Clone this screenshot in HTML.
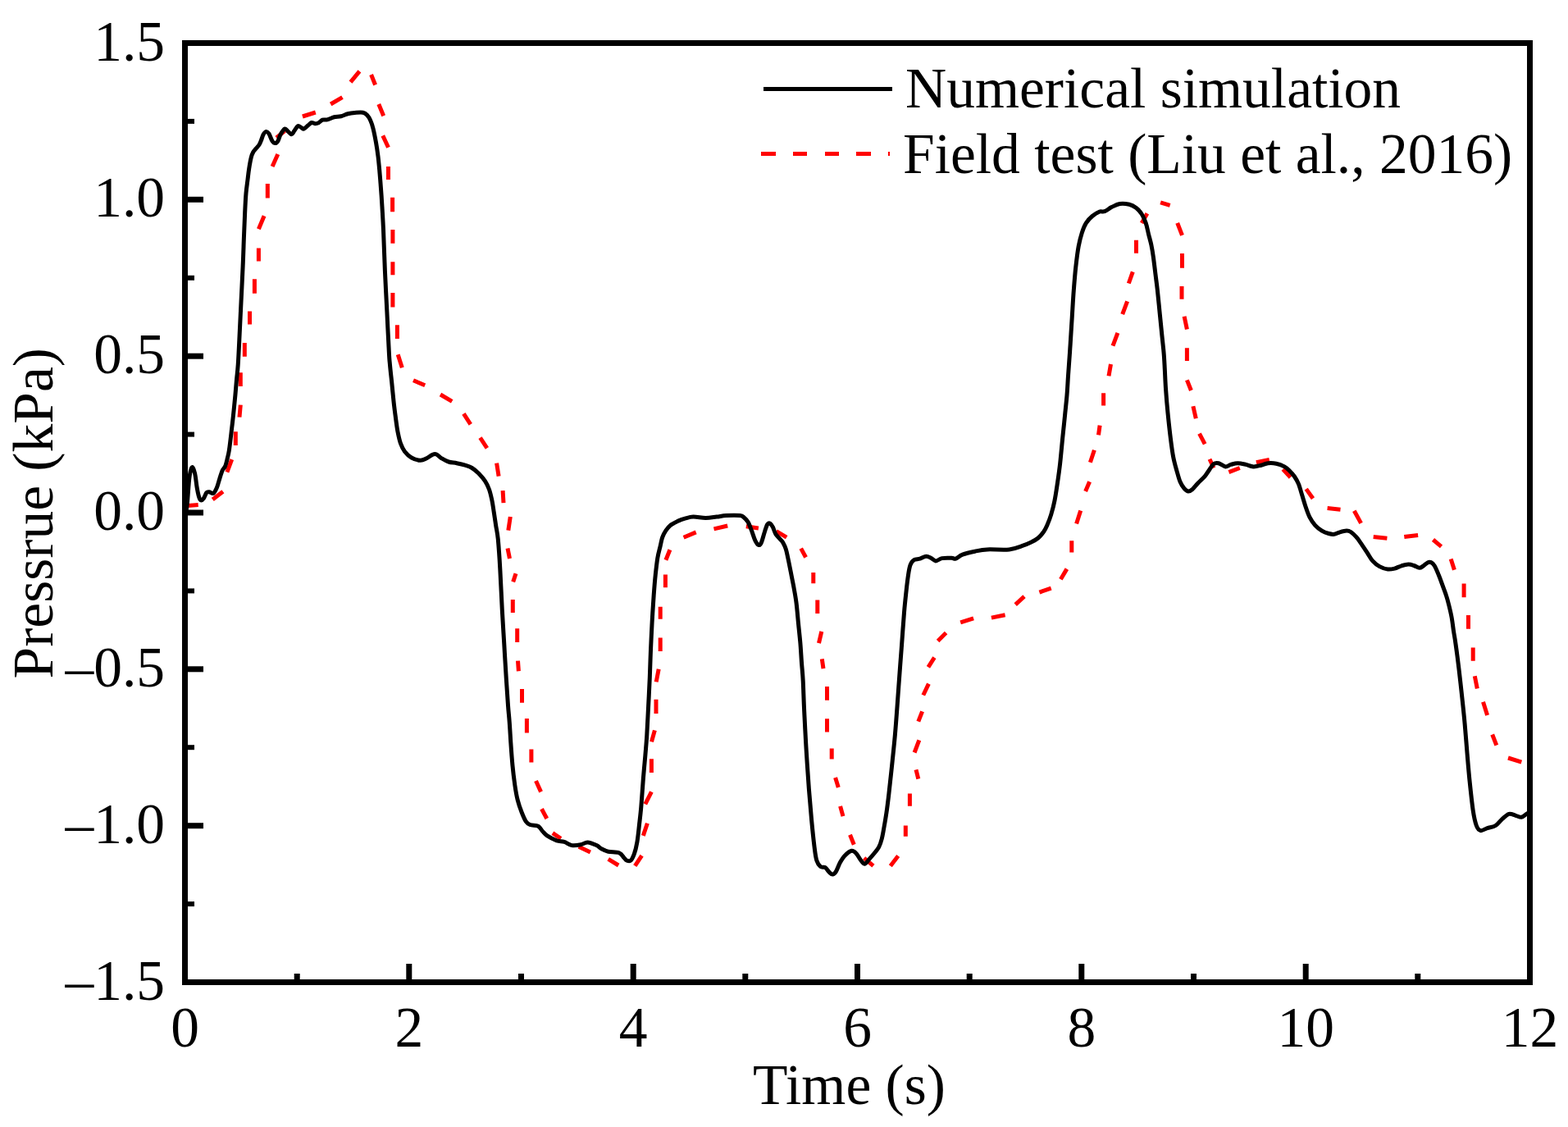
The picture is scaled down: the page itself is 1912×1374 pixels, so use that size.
<!DOCTYPE html>
<html><head><meta charset="utf-8"><style>
html,body{margin:0;padding:0;background:#fff;}
svg{display:block;}
text{font-family:"Liberation Serif","Times New Roman",serif;font-size:69.5px;fill:#000;}
</style></head><body>
<svg width="1912" height="1374" viewBox="0 0 1912 1374">
<rect x="0" y="0" width="1912" height="1374" fill="#fff"/>
<defs><clipPath id="c"><rect x="229" y="56" width="1633" height="1138"/></clipPath></defs>
<g clip-path="url(#c)" fill="none">
<path d="M224.0,616.9 L241.7,615.4 M259.3,609.0 L271.9,599.3 M276.9,575.6 L282.7,560.2 M287.3,542.9 L287.3,526.2 M292.0,508.6 L293.3,493.6 M293.3,471.0 L293.3,454.2 M298.3,434.8 L298.3,418.1 M304.5,395.5 L304.5,379.6 M310.4,357.8 L310.4,340.3 M315.4,318.5 L315.4,302.6 M315.4,279.2 L322.1,263.3 M326.3,241.6 L326.3,224.0 M332.1,203.1 L338.8,188.0 M337.1,168.0 L347.2,159.6 M368.9,142.0 L384.8,137.0 M403.2,127.0 L417.5,118.6 M427.5,100.2 L438.4,86.8 M452.6,91.0 L457.6,103.5 M461.8,127.0 L467.7,141.2 M466.8,165.4 L473.5,179.7 M473.5,203.1 L473.5,219.0 M478.6,240.8 L478.6,258.3 M478.9,280.0 L478.9,296.7 M478.9,319.3 L478.9,335.2 M478.9,357.0 L478.9,374.6 M484.4,396.3 L484.4,413.0 M485.2,432.3 L490.3,448.2 M504.0,463.8 L518.2,469.8 M537.0,481.0 L551.2,489.4 M565.4,504.4 L573.8,517.3 M585.5,533.7 L593.9,546.3 M605.6,564.7 L608.1,580.6 M613.1,598.2 L614.0,613.2 M622.3,630.0 L619.8,646.7 M619.0,668.4 L621.5,680.9 M629.0,699.3 L625.7,709.4 M625.3,731.1 L625.3,747.0 M630.7,766.3 L630.7,783.0 M631.5,805.6 L632.4,818.2 M636.5,840.0 L636.5,856.7 M642.4,875.9 L642.4,893.4 M647.9,913.5 L647.9,929.4 M653.5,952.0 L659.6,965.4 M660.5,986.3 L666.8,998.0 M673.9,1015.6 L683.9,1022.3 M705.7,1032.3 L719.9,1039.0 M741.7,1047.4 L754.2,1055.0 M774.3,1055.7 L782.6,1043.2 M784.3,1018.9 L789.4,1003.8 M786.8,980.4 L794.4,965.4 M794.4,941.9 L794.4,925.2 M794.5,904.4 L798.4,890.4 M800.0,869.9 L800.0,852.8 M800.2,831.4 L803.2,815.7 M805.2,794.1 L805.2,777.4 M805.2,754.8 L805.2,739.7 M811.4,716.3 L811.4,700.4 M811.9,682.8 L816.9,670.3 M833.6,655.2 L848.7,648.9 M870.5,644.9 L887.2,641.0 M909.8,641.8 L924.9,643.9 M946.6,647.7 L959.2,655.2 M976.7,668.6 L982.6,679.5 M991.8,697.9 L991.8,711.3 M996.8,731.4 L996.8,748.1 M1001.8,769.9 L998.5,784.1 M1002.3,803.3 L1004.0,815.1 M1008.5,837.0 L1008.5,853.7 M1008.5,876.2 L1008.5,892.5 M1014.2,912.4 L1014.2,925.6 M1018.6,948.1 L1022.3,960.1 M1024.6,982.8 L1028.0,995.1 M1036.5,1017.8 L1041.3,1029.7 M1053.6,1046.2 L1064.9,1055.7 M1085.8,1055.7 L1095.2,1043.4 M1104.3,1019.7 L1104.3,1006.4 M1109.4,982.8 L1109.4,967.6 M1119.8,949.7 L1117.0,938.3 M1115.1,917.5 L1120.8,902.3 M1119.8,879.6 L1124.6,867.3 M1125.8,847.5 L1132.4,833.7 M1131.9,813.3 L1139.4,801.6 M1143.6,781.5 L1153.6,771.5 M1171.2,758.9 L1187.1,753.9 M1208.9,753.1 L1225.6,749.7 M1238.2,737.2 L1249.0,727.1 M1267.4,722.1 L1281.7,717.1 M1293.4,706.2 L1300.9,693.6 M1306.8,673.6 L1306.8,659.3 M1312.6,638.4 L1317.7,622.5 M1323.6,599.0 L1328.6,587.3 M1329.4,563.8 L1334.4,548.8 M1339.5,530.4 L1341.1,518.7 M1345.6,494.4 L1345.6,479.3 M1352.0,458.4 L1354.5,444.0 M1357.0,421.7 L1362.9,405.8 M1368.7,383.2 L1374.6,367.3 M1376.3,345.5 L1381.3,331.3 M1385.5,308.7 L1385.5,292.8 M1392.2,271.9 L1398.9,260.2 M1415.1,246.8 L1426.7,250.3 M1435.7,271.9 L1441.5,286.9 M1441.5,309.0 L1441.5,326.8 M1441.0,348.9 L1441.0,364.8 M1444.1,385.7 L1447.4,401.6 M1447.4,424.2 L1447.4,440.1 M1447.4,463.4 L1452.4,476.0 M1454.9,495.2 L1458.3,510.3 M1462.5,528.7 L1469.2,541.3 M1475.0,559.7 L1480.0,570.5 M1498.4,575.6 L1511.8,570.5 M1531.9,563.8 L1547.8,560.5 M1564.4,572.0 L1573.6,582.0 M1592.7,596.1 L1601.0,607.8 M1618.6,619.5 L1634.5,621.2 M1651.3,622.8 L1659.6,637.9 M1674.7,654.6 L1691.4,656.3 M1712.3,654.6 L1729.1,652.5 M1747.5,658.0 L1757.5,666.4 M1769.2,681.4 L1773.4,694.8 M1785.1,711.5 L1785.1,728.3 M1790.5,750.0 L1790.5,766.8 M1796.2,789.5 L1796.2,805.8 M1798.3,824.2 L1801.3,839.5 M1808.5,855.8 L1813.6,872.1 M1819.7,895.5 L1824.8,908.7 M1839.0,924.0 L1855.3,929.1" stroke="#ff0000" stroke-width="5" stroke-linecap="butt"/>
<path d="M225.5,632.0 C226.0,629.0 227.4,622.4 228.3,614.1 C229.2,605.8 229.9,589.7 230.9,582.3 C231.9,574.9 233.1,570.6 234.2,569.7 C235.3,568.9 236.6,573.2 237.6,577.2 C238.6,581.2 239.3,589.2 240.1,594.0 C240.9,598.8 241.8,603.1 242.6,605.7 C243.4,608.4 244.1,609.6 245.1,609.9 C246.1,610.2 247.3,608.9 248.4,607.4 C249.5,605.9 250.7,602.0 251.8,600.7 C252.9,599.4 253.7,599.7 255.1,599.8 C256.5,599.9 258.6,602.3 260.1,601.5 C261.6,600.7 263.0,597.7 264.3,594.8 C265.6,591.9 266.6,587.4 267.7,583.9 C268.8,580.4 269.9,576.4 271.0,573.9 C272.1,571.4 273.4,571.1 274.4,568.9 C275.4,566.7 276.1,563.9 276.9,560.5 C277.7,557.1 278.6,554.1 279.4,548.8 C280.2,543.5 281.1,535.7 281.9,528.7 C282.7,521.7 283.6,514.7 284.4,506.9 C285.2,499.1 286.2,489.3 286.9,481.8 C287.6,474.3 288.1,467.9 288.6,461.8 C289.2,455.7 289.6,453.6 290.2,445.0 C290.8,436.4 291.4,423.2 292.0,410.5 C292.6,397.8 293.3,382.9 294.0,368.7 C294.7,354.5 295.5,338.3 296.1,325.2 C296.7,312.1 297.0,300.7 297.4,290.0 C297.8,279.3 298.2,269.9 298.6,260.8 C299.0,251.8 299.4,242.7 300.0,235.7 C300.6,228.7 301.4,224.0 302.0,219.0 C302.6,214.0 303.0,210.1 303.7,205.6 C304.4,201.1 305.4,195.5 306.2,192.2 C307.0,188.8 307.7,187.3 308.7,185.5 C309.7,183.7 310.8,182.8 312.0,181.3 C313.2,179.8 315.1,178.1 316.2,176.3 C317.3,174.5 317.9,172.6 318.7,170.5 C319.5,168.4 320.2,165.5 321.2,163.8 C322.2,162.1 323.5,160.6 324.6,160.4 C325.7,160.2 326.6,161.0 327.9,162.9 C329.1,164.8 330.8,170.2 332.1,172.1 C333.4,174.0 334.4,174.6 335.5,174.6 C336.6,174.6 337.7,173.9 338.8,172.1 C339.9,170.3 340.8,166.3 342.2,163.8 C343.6,161.3 345.7,157.7 347.2,157.1 C348.7,156.5 350.0,159.3 351.4,160.4 C352.8,161.5 354.2,163.9 355.5,163.8 C356.8,163.7 357.6,161.3 358.9,159.6 C360.2,157.9 361.7,154.4 363.1,153.7 C364.5,153.0 366.1,154.8 367.3,155.4 C368.6,156.0 369.2,157.5 370.6,157.1 C372.0,156.7 374.1,154.2 375.6,152.9 C377.1,151.6 378.4,149.9 379.8,149.5 C381.2,149.1 382.6,150.6 384.0,150.7 C385.4,150.8 386.7,150.7 388.2,149.9 C389.7,149.2 391.4,146.9 393.2,146.2 C395.0,145.5 396.7,146.5 399.1,145.9 C401.5,145.3 404.6,143.5 407.4,142.8 C410.2,142.1 413.0,142.4 415.8,141.7 C418.6,141.0 421.4,139.4 424.2,138.7 C427.0,138.0 429.4,137.7 432.5,137.5 C435.6,137.3 440.1,136.8 442.6,137.3 C445.1,137.8 446.1,138.7 447.6,140.3 C449.1,141.9 450.6,144.2 451.8,147.0 C453.1,149.8 454.0,152.6 455.1,157.1 C456.2,161.6 457.5,168.2 458.5,173.8 C459.5,179.4 460.3,184.9 461.0,190.5 C461.7,196.1 462.1,201.2 462.7,207.3 C463.2,213.5 463.8,219.9 464.3,227.4 C464.9,234.9 465.5,243.7 466.0,252.5 C466.5,261.3 466.9,267.1 467.5,280.0 C468.1,292.9 468.7,313.5 469.4,330.2 C470.1,346.9 471.1,363.7 471.9,380.4 C472.7,397.1 473.8,419.8 474.4,430.6 C475.0,441.4 475.0,439.2 475.5,445.0 C476.0,450.8 476.8,457.6 477.6,465.1 C478.4,472.6 479.3,482.7 480.1,490.2 C480.9,497.7 481.8,504.2 482.6,510.3 C483.4,516.4 484.1,522.0 485.1,527.0 C486.1,532.0 487.0,536.5 488.4,540.4 C489.8,544.3 491.3,547.6 493.5,550.5 C495.7,553.4 498.6,556.2 501.8,558.0 C505.0,559.8 509.6,561.2 512.7,561.3 C515.8,561.4 517.8,559.9 520.2,558.8 C522.6,557.7 525.0,555.4 526.9,554.6 C528.8,553.8 529.9,553.1 531.9,553.8 C533.9,554.5 536.1,557.3 538.6,558.8 C541.1,560.3 543.9,562.0 547.0,563.0 C550.1,564.0 553.6,564.0 557.0,564.7 C560.4,565.4 564.0,566.2 567.1,567.2 C570.2,568.2 572.7,568.8 575.5,570.5 C578.3,572.2 581.1,574.6 583.8,577.2 C586.4,579.9 589.3,583.2 591.4,586.4 C593.5,589.6 595.0,592.7 596.4,596.5 C597.8,600.3 598.7,604.4 599.7,609.0 C600.7,613.6 601.4,618.8 602.2,624.1 C603.0,629.4 603.9,635.2 604.7,640.8 C605.6,646.4 606.4,648.8 607.3,657.6 C608.1,666.4 609.0,679.1 609.8,693.5 C610.6,707.9 611.5,728.4 612.3,743.7 C613.1,759.0 614.0,771.5 614.8,785.5 C615.6,799.5 616.5,815.0 617.3,827.4 C618.1,839.8 618.9,851.2 619.5,860.0 C620.1,868.8 620.7,872.5 621.2,880.0 C621.8,887.5 622.2,896.2 622.8,905.1 C623.4,914.0 624.2,925.0 625.0,933.6 C625.8,942.2 626.8,950.0 627.8,957.0 C628.8,964.0 629.8,969.8 631.2,975.4 C632.6,981.0 634.5,986.2 636.2,990.5 C637.9,994.8 639.5,998.8 641.2,1001.3 C642.9,1003.8 643.8,1004.5 646.3,1005.5 C648.8,1006.5 653.8,1005.9 656.3,1007.2 C658.8,1008.5 659.5,1011.2 661.3,1013.1 C663.1,1015.0 664.3,1017.0 667.2,1018.9 C670.1,1020.8 675.4,1023.5 678.9,1024.8 C682.4,1026.0 685.0,1025.4 688.1,1026.4 C691.2,1027.4 693.9,1030.0 697.3,1030.6 C700.6,1031.2 705.0,1030.4 708.2,1029.8 C711.4,1029.2 713.3,1026.9 716.5,1027.0 C719.7,1027.1 724.6,1029.3 727.4,1030.6 C730.2,1031.9 730.9,1033.5 733.3,1034.8 C735.7,1036.1 738.1,1037.4 741.7,1038.2 C745.3,1039.0 751.8,1038.5 755.0,1039.8 C758.2,1041.0 759.4,1044.2 760.9,1045.7 C762.4,1047.2 762.8,1048.5 764.2,1049.0 C765.6,1049.5 767.8,1050.4 769.3,1049.0 C770.8,1047.6 772.2,1044.3 773.5,1040.7 C774.8,1037.1 775.8,1032.9 776.8,1027.3 C777.8,1021.7 778.5,1014.5 779.3,1007.2 C780.1,1000.0 781.0,993.3 781.8,983.8 C782.6,974.3 783.5,960.6 784.3,950.3 C785.1,940.0 786.0,930.8 786.8,921.8 C787.5,912.8 788.2,906.2 788.8,896.1 C789.4,886.0 790.0,872.8 790.6,861.1 C791.2,849.5 791.8,837.6 792.3,826.2 C792.8,814.8 793.0,803.7 793.5,792.5 C794.0,781.3 794.5,770.2 795.1,759.0 C795.7,747.8 796.5,735.3 797.2,725.5 C797.9,715.7 798.5,707.9 799.3,700.4 C800.1,692.9 800.9,685.9 801.8,680.3 C802.7,674.7 803.9,671.1 804.9,666.9 C805.9,662.7 806.5,658.5 807.7,655.2 C808.9,651.9 810.2,649.4 811.9,646.9 C813.6,644.4 815.2,642.2 817.7,640.2 C820.2,638.2 824.0,636.5 826.9,635.1 C829.8,633.8 832.2,632.9 835.3,632.1 C838.4,631.3 841.2,630.2 845.4,630.1 C849.6,630.0 855.7,631.5 860.4,631.5 C865.1,631.5 869.6,630.6 873.8,630.1 C878.0,629.6 880.8,628.8 885.5,628.5 C890.2,628.2 898.7,628.1 902.3,628.5 C905.9,628.9 905.6,629.6 907.3,631.0 C909.0,632.4 910.8,634.1 912.3,636.8 C913.8,639.4 915.1,643.3 916.5,646.9 C917.9,650.5 919.3,655.7 920.7,658.6 C922.1,661.5 923.6,663.9 924.9,664.4 C926.1,664.9 927.0,664.5 928.2,661.9 C929.5,659.2 931.1,652.3 932.4,648.5 C933.6,644.7 934.6,641.0 935.7,639.3 C936.8,637.6 938.0,637.6 939.1,638.2 C940.2,638.8 941.3,640.6 942.4,642.7 C943.5,644.8 944.4,648.6 945.8,651.0 C947.2,653.4 949.3,655.1 950.8,656.9 C952.3,658.7 953.8,659.8 955.0,661.9 C956.2,664.0 957.3,666.4 958.3,669.5 C959.3,672.6 959.8,675.7 960.8,680.3 C961.8,684.9 963.1,691.5 964.2,697.1 C965.3,702.7 966.4,707.7 967.5,713.8 C968.6,719.9 969.9,726.4 970.9,733.9 C971.9,741.4 972.6,750.6 973.4,759.0 C974.2,767.4 975.2,775.7 975.9,784.1 C976.6,792.5 977.0,801.6 977.6,809.2 C978.2,816.9 978.7,820.3 979.2,830.0 C979.7,839.7 980.0,853.2 980.7,867.3 C981.4,881.4 982.2,898.8 983.2,914.6 C984.2,930.4 985.3,947.8 986.4,962.0 C987.5,976.2 988.5,988.1 989.6,999.8 C990.7,1011.5 992.0,1023.8 993.0,1032.0 C994.0,1040.2 994.5,1044.9 995.8,1049.0 C997.1,1053.1 998.9,1055.2 1000.6,1056.6 C1002.4,1058.0 1004.6,1056.5 1006.3,1057.6 C1008.0,1058.7 1009.5,1061.8 1011.0,1063.2 C1012.5,1064.6 1013.9,1066.2 1015.3,1066.1 C1016.7,1065.9 1018.0,1064.7 1019.5,1062.3 C1021.0,1059.9 1022.5,1055.1 1024.2,1051.9 C1025.9,1048.8 1027.5,1045.8 1029.9,1043.4 C1032.3,1041.0 1036.0,1037.8 1038.4,1037.3 C1040.8,1036.8 1042.2,1038.5 1044.1,1040.5 C1046.0,1042.5 1048.1,1046.9 1049.8,1049.0 C1051.5,1051.1 1052.8,1053.5 1054.5,1053.2 C1056.2,1052.9 1058.3,1049.2 1060.2,1047.1 C1062.1,1045.0 1064.0,1042.9 1065.9,1040.5 C1067.8,1038.1 1070.0,1035.9 1071.6,1032.9 C1073.2,1029.9 1074.2,1026.8 1075.3,1022.5 C1076.4,1018.2 1077.2,1012.8 1078.2,1007.4 C1079.2,1002.0 1080.0,997.0 1081.0,990.4 C1082.0,983.8 1082.8,977.1 1083.9,967.6 C1085.0,958.1 1086.3,945.6 1087.6,933.6 C1088.8,921.6 1090.3,908.3 1091.4,895.7 C1092.5,883.1 1093.3,871.8 1094.3,857.9 C1095.3,844.0 1096.6,825.6 1097.6,812.5 C1098.6,799.4 1099.3,790.2 1100.1,779.0 C1100.9,767.8 1101.8,755.3 1102.6,745.5 C1103.4,735.7 1104.3,727.9 1105.1,720.4 C1105.9,712.9 1106.8,705.6 1107.6,700.3 C1108.4,695.0 1109.0,691.5 1110.1,688.6 C1111.2,685.7 1112.3,684.0 1114.3,682.8 C1116.2,681.5 1119.3,681.9 1121.8,681.1 C1124.3,680.3 1127.2,678.3 1129.4,678.2 C1131.6,678.1 1133.2,679.3 1135.2,680.3 C1137.2,681.2 1138.9,683.8 1141.1,683.9 C1143.3,684.0 1145.4,681.2 1148.6,680.6 C1151.8,680.0 1157.5,680.2 1160.3,680.3 C1163.1,680.4 1163.2,681.8 1165.4,681.1 C1167.6,680.4 1169.8,677.6 1173.7,676.1 C1177.6,674.6 1183.8,673.2 1188.8,672.2 C1193.8,671.2 1196.8,670.3 1203.8,669.9 C1210.8,669.5 1223.3,670.7 1230.6,669.9 C1237.9,669.1 1242.9,666.7 1247.4,665.2 C1251.9,663.7 1254.3,662.5 1257.4,661.0 C1260.5,659.5 1263.3,658.1 1265.8,656.0 C1268.3,653.9 1270.7,651.0 1272.5,648.5 C1274.3,646.0 1275.2,644.3 1276.7,640.8 C1278.2,637.3 1280.2,632.4 1281.7,627.4 C1283.2,622.4 1284.7,616.8 1285.9,610.7 C1287.2,604.6 1288.1,598.1 1289.2,590.6 C1290.3,583.1 1291.5,575.3 1292.6,565.5 C1293.7,555.7 1294.9,541.8 1295.9,532.0 C1296.9,522.2 1297.7,515.3 1298.5,506.9 C1299.3,498.5 1300.3,490.2 1301.0,481.8 C1301.7,473.4 1302.0,465.3 1302.6,456.7 C1303.2,448.1 1304.1,436.0 1304.5,430.0 C1304.9,424.0 1304.6,427.9 1305.1,420.8 C1305.5,413.7 1306.5,398.5 1307.2,387.4 C1307.9,376.2 1308.5,364.2 1309.3,353.9 C1310.1,343.6 1310.8,334.3 1311.8,325.4 C1312.8,316.5 1313.9,307.3 1315.2,300.3 C1316.5,293.3 1317.9,288.3 1319.4,283.6 C1320.9,278.9 1322.3,275.2 1324.4,271.9 C1326.5,268.5 1329.2,265.8 1331.9,263.5 C1334.6,261.2 1337.8,259.2 1340.3,258.2 C1342.8,257.2 1344.5,258.6 1347.0,257.7 C1349.5,256.8 1352.3,254.1 1355.4,252.6 C1358.5,251.1 1361.8,249.1 1365.4,248.5 C1369.0,247.9 1373.8,248.5 1377.1,249.3 C1380.4,250.1 1383.0,251.6 1385.5,253.5 C1388.0,255.4 1390.2,257.9 1392.2,261.0 C1394.2,264.1 1395.8,267.8 1397.2,271.9 C1398.6,275.9 1399.4,280.8 1400.5,285.3 C1401.6,289.8 1402.9,294.0 1403.9,298.7 C1404.9,303.4 1405.6,307.8 1406.4,313.7 C1407.2,319.6 1408.1,327.1 1408.9,333.8 C1409.7,340.5 1410.6,346.4 1411.4,353.9 C1412.2,361.4 1413.1,370.6 1413.9,379.0 C1414.7,387.4 1415.6,395.7 1416.4,404.1 C1417.2,412.5 1418.3,421.6 1419.0,429.2 C1419.7,436.8 1419.9,442.6 1420.3,450.0 C1420.7,457.4 1420.9,464.6 1421.5,473.5 C1422.1,482.4 1423.0,493.6 1424.0,503.6 C1425.0,513.6 1426.2,524.8 1427.3,533.7 C1428.4,542.6 1429.4,550.5 1430.7,557.2 C1432.0,563.9 1433.5,568.9 1434.9,573.9 C1436.3,578.9 1437.5,583.7 1439.0,587.3 C1440.5,590.9 1442.4,593.6 1444.1,595.6 C1445.8,597.6 1447.4,598.9 1449.1,599.0 C1450.8,599.1 1452.1,598.2 1454.1,596.5 C1456.0,594.8 1458.3,591.6 1460.8,589.0 C1463.3,586.4 1466.8,583.4 1469.2,580.6 C1471.6,577.8 1473.2,574.7 1475.0,572.2 C1476.8,569.7 1478.2,566.8 1480.0,565.5 C1481.8,564.2 1483.5,564.1 1485.9,564.7 C1488.3,565.3 1491.8,568.6 1494.3,568.9 C1496.8,569.2 1498.5,567.1 1501.0,566.4 C1503.5,565.7 1506.2,564.7 1509.3,564.7 C1512.4,564.7 1516.2,565.7 1519.4,566.4 C1522.6,567.1 1525.5,568.8 1528.6,568.9 C1531.7,569.0 1534.9,567.9 1537.8,567.2 C1540.7,566.5 1543.1,565.0 1546.2,564.7 C1549.3,564.4 1552.9,564.5 1556.2,565.2 C1559.5,565.9 1563.6,567.5 1566.2,568.9 C1568.8,570.3 1570.0,571.5 1572.0,573.5 C1574.0,575.5 1576.6,578.2 1578.5,581.0 C1580.4,583.8 1582.0,586.4 1583.5,590.2 C1585.0,594.0 1586.3,599.1 1587.7,603.6 C1589.1,608.1 1590.3,612.5 1591.8,617.0 C1593.3,621.5 1594.9,626.5 1596.9,630.4 C1598.9,634.3 1601.1,637.6 1603.6,640.4 C1606.1,643.2 1609.1,645.4 1611.9,647.1 C1614.7,648.8 1617.8,649.8 1620.3,650.5 C1622.8,651.2 1624.8,651.6 1627.0,651.3 C1629.2,651.0 1631.2,649.5 1633.7,648.8 C1636.2,648.1 1639.9,647.1 1642.1,647.1 C1644.3,647.1 1645.1,647.2 1647.1,648.5 C1649.0,649.8 1651.6,652.1 1653.8,654.6 C1656.0,657.1 1658.3,660.6 1660.5,663.8 C1662.7,667.0 1665.0,670.5 1667.2,673.9 C1669.4,677.2 1671.3,681.1 1673.8,683.9 C1676.3,686.7 1679.1,688.9 1682.2,690.6 C1685.3,692.3 1689.2,693.6 1692.3,694.0 C1695.4,694.4 1697.8,693.8 1700.6,693.1 C1703.4,692.4 1706.2,690.6 1709.0,689.8 C1711.8,689.0 1714.9,688.1 1717.4,688.1 C1719.9,688.1 1721.9,688.8 1724.1,689.5 C1726.3,690.2 1728.8,692.2 1730.8,692.3 C1732.8,692.3 1734.1,690.9 1735.8,689.8 C1737.5,688.7 1739.3,686.6 1740.8,685.9 C1742.3,685.2 1743.6,685.0 1745.0,685.6 C1746.4,686.2 1747.7,687.3 1749.2,689.8 C1750.7,692.3 1752.5,696.7 1754.2,700.7 C1755.9,704.8 1757.7,709.9 1759.2,714.1 C1760.7,718.3 1762.2,721.9 1763.4,725.8 C1764.7,729.7 1765.6,733.0 1766.7,737.5 C1767.8,742.0 1769.1,747.2 1770.1,752.6 C1771.1,758.0 1771.8,764.7 1772.6,770.0 C1773.4,775.3 1773.9,776.9 1774.9,784.4 C1776.0,791.9 1777.6,803.8 1778.9,815.0 C1780.2,826.2 1781.8,840.5 1783.0,851.7 C1784.2,862.9 1785.1,871.0 1786.1,882.2 C1787.1,893.4 1788.1,907.0 1789.1,918.9 C1790.1,930.8 1791.0,942.0 1792.2,953.6 C1793.4,965.2 1794.9,979.4 1796.2,988.2 C1797.5,997.0 1798.8,1002.4 1800.3,1006.5 C1801.8,1010.6 1803.2,1012.1 1805.4,1012.6 C1807.6,1013.1 1810.5,1010.6 1813.6,1009.6 C1816.6,1008.6 1820.7,1008.4 1823.7,1006.5 C1826.8,1004.6 1829.2,1000.8 1831.9,998.4 C1834.6,996.0 1837.3,993.0 1840.0,992.3 C1842.7,991.6 1845.7,993.6 1848.2,994.3 C1850.8,995.0 1853.1,996.6 1855.3,996.3 C1857.5,996.0 1859.3,993.7 1861.4,992.3 C1863.5,990.9 1866.9,988.7 1868.0,988.0" stroke="#000" stroke-width="5" stroke-linejoin="round" stroke-linecap="round"/>
</g>
<g stroke="#000" stroke-width="7"><line x1="225.5" y1="1197.5" x2="225.5" y2="1175"/><line x1="362.2" y1="1197.5" x2="362.2" y2="1187"/><line x1="498.8" y1="1197.5" x2="498.8" y2="1175"/><line x1="635.5" y1="1197.5" x2="635.5" y2="1187"/><line x1="772.2" y1="1197.5" x2="772.2" y2="1175"/><line x1="908.8" y1="1197.5" x2="908.8" y2="1187"/><line x1="1045.5" y1="1197.5" x2="1045.5" y2="1175"/><line x1="1182.2" y1="1197.5" x2="1182.2" y2="1187"/><line x1="1318.8" y1="1197.5" x2="1318.8" y2="1175"/><line x1="1455.5" y1="1197.5" x2="1455.5" y2="1187"/><line x1="1592.2" y1="1197.5" x2="1592.2" y2="1175"/><line x1="1728.8" y1="1197.5" x2="1728.8" y2="1187"/><line x1="1865.5" y1="1197.5" x2="1865.5" y2="1175"/><line x1="225.5" y1="1197.5" x2="248" y2="1197.5"/><line x1="225.5" y1="1102.1" x2="237" y2="1102.1" stroke-width="6"/><line x1="225.5" y1="1006.7" x2="248" y2="1006.7"/><line x1="225.5" y1="911.2" x2="237" y2="911.2" stroke-width="6"/><line x1="225.5" y1="815.8" x2="248" y2="815.8"/><line x1="225.5" y1="720.4" x2="237" y2="720.4" stroke-width="6"/><line x1="225.5" y1="625.0" x2="248" y2="625.0"/><line x1="225.5" y1="529.6" x2="237" y2="529.6" stroke-width="6"/><line x1="225.5" y1="434.2" x2="248" y2="434.2"/><line x1="225.5" y1="338.8" x2="237" y2="338.8" stroke-width="6"/><line x1="225.5" y1="243.3" x2="248" y2="243.3"/><line x1="225.5" y1="147.9" x2="237" y2="147.9" stroke-width="6"/><line x1="225.5" y1="52.5" x2="248" y2="52.5"/></g>
<rect x="225.5" y="52.5" width="1640" height="1145" fill="none" stroke="#000" stroke-width="7"/>
<text x="201" y="1218.5" text-anchor="end">–1.5</text><text x="201" y="1027.7" text-anchor="end">–1.0</text><text x="201" y="836.8" text-anchor="end">–0.5</text><text x="201" y="646.0" text-anchor="end">0.0</text><text x="201" y="455.2" text-anchor="end">0.5</text><text x="201" y="264.3" text-anchor="end">1.0</text><text x="201" y="73.5" text-anchor="end">1.5</text>
<text x="225.5" y="1275.5" text-anchor="middle">0</text><text x="498.8" y="1275.5" text-anchor="middle">2</text><text x="772.2" y="1275.5" text-anchor="middle">4</text><text x="1045.5" y="1275.5" text-anchor="middle">6</text><text x="1318.8" y="1275.5" text-anchor="middle">8</text><text x="1592.2" y="1275.5" text-anchor="middle">10</text><text x="1865.5" y="1275.5" text-anchor="middle">12</text>
<text x="918" y="1345.5">Time (s)</text>
<text transform="translate(64,827.5) rotate(-90)">Pressrue (kPa)</text>
<line x1="931" y1="108.5" x2="1088" y2="108.5" stroke="#000" stroke-width="5"/>
<g stroke="#ff0000" stroke-width="5"><line x1="928" y1="187.5" x2="946" y2="187.5"/><line x1="967" y1="187.5" x2="984" y2="187.5"/><line x1="1006" y1="187.5" x2="1023" y2="187.5"/><line x1="1044" y1="187.5" x2="1062" y2="187.5"/><line x1="1083" y1="187.5" x2="1085" y2="187.5"/></g>
<text x="1104" y="131">Numerical simulation</text>
<text x="1101" y="211">Field test (Liu et al., 2016)</text>
</svg>
</body></html>
